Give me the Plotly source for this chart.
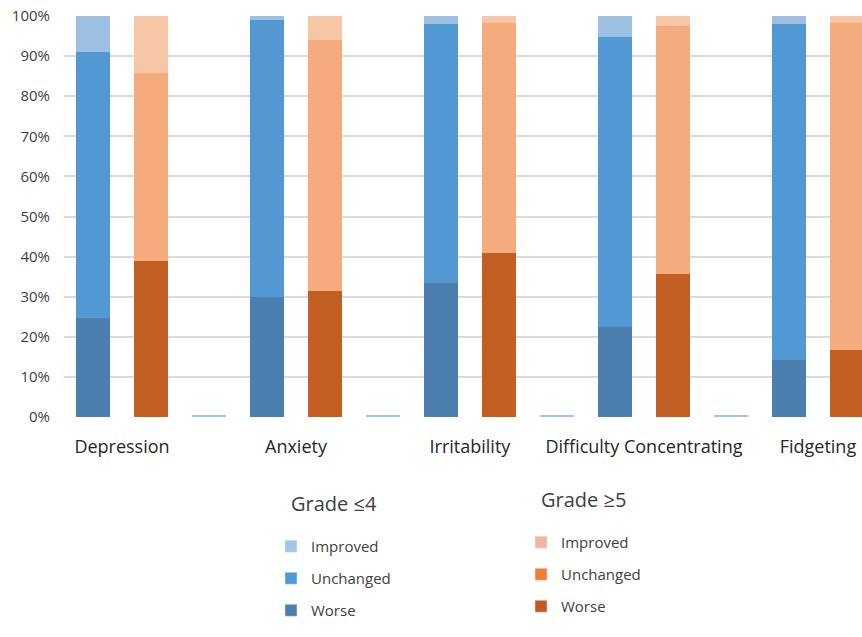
import plotly.graph_objects as go

# ---- data (percent) ----
categories = ["Depression", "Anxiety", "Irritability", "Difficulty Concentrating", "Fidgeting"]
g4_worse = [24.7, 29.9, 33.4, 22.4, 14.2]
g4_unchanged = [66.3, 69.1, 64.6, 72.4, 83.8]
g4_improved = [9.0, 1.0, 2.0, 5.2, 2.0]
g5_worse = [38.9, 31.4, 40.9, 35.7, 16.7]
g5_unchanged = [47.0, 62.6, 57.4, 61.8, 81.6]
g5_improved = [14.1, 6.0, 1.7, 2.5, 1.7]
spacer_vals = [0.3, 0.3, 0.3, 0.3]
y_tick_vals = [0, 10, 20, 30, 40, 50, 60, 70, 80, 90, 100]
y_tick_text = [f"{v}%" for v in y_tick_vals]

FONT = "Open Sans"
n = len(categories)
x_g4 = [3 * i for i in range(n)]
x_g5 = [3 * i + 1 for i in range(n)]
x_sp = [3 * i + 2 for i in range(len(spacer_vals))]
x_cat = [3 * i + 0.5 for i in range(n)]

bar_w = 0.59
fig = go.Figure()

def add_bar(x, y, color):
    fig.add_trace(go.Bar(x=x, y=y, width=bar_w, marker=dict(color=color, line=dict(width=0)),
                         showlegend=False, hoverinfo="skip"))

add_bar(x_g4, g4_worse, "#4A7FB0")
add_bar(x_g4, g4_unchanged, "#5299D3")
add_bar(x_g4, g4_improved, "#9DBFE2")
add_bar(x_g5, g5_worse, "#C45F24")
add_bar(x_g5, g5_unchanged, "#F4AC7E")
add_bar(x_g5, g5_improved, "#F7C6A6")
add_bar(x_sp, spacer_vals, "#9DC3E6")

# legend-only entries
leg_items = [
    ("Improved", "#A2C4E6", "legend", "a1"),
    ("Unchanged", "#4A9AD8", "legend", "a2"),
    ("Worse", "#4C7EB0", "legend", "a3"),
    ("Improved", "#F5B4A0", "legend2", "b1"),
    ("Unchanged", "#EE7D38", "legend2", "b2"),
    ("Worse", "#C35A20", "legend2", "b3"),
]
for name, col, leg, grp in leg_items:
    fig.add_trace(go.Bar(x=[None], y=[None], name=name, marker=dict(color=col),
                         legend=leg, legendgroup=grp, showlegend=True))

W, H = 862, 637
L, T, B = 64, 16, 220
pw, ph = W - L, H - T - B

def px(xpix):
    return (xpix - L) / pw

def py(ypix):
    return (H - B - ypix) / ph

leg_common = dict(font=dict(family=FONT, size=15, color="#404040"), bgcolor="rgba(0,0,0,0)",
                  itemwidth=30, tracegroupgap=9.5, xanchor="left", yanchor="top",
                  traceorder="grouped", itemclick=False, itemdoubleclick=False)

fig.update_layout(
    width=W, height=H,
    margin=dict(l=L, r=0, t=T, b=B),
    barmode="stack",
    bargap=0,
    plot_bgcolor="white", paper_bgcolor="white",
    font=dict(family=FONT, color="#404040"),
    xaxis=dict(range=[-0.5, 13.26], tickmode="array", tickvals=x_cat, ticktext=categories,
               showgrid=False, zeroline=False, showline=False, ticks="",
               tickfont=dict(family=FONT, size=18, color="#262626"), ticklabelstandoff=17,
               fixedrange=True),
    yaxis=dict(range=[0, 100], tickmode="array", tickvals=y_tick_vals, ticktext=y_tick_text,
               showgrid=True, gridcolor="#D9D9D9", gridwidth=2.3, zeroline=False, showline=False,
               ticks="", tickfont=dict(family=FONT, size=15, color="#404040"), ticklabelstandoff=13,
               fixedrange=True),
    legend=dict(x=px(271), y=py(530), **leg_common),
    legend2=dict(x=px(521), y=py(526), **leg_common),
    annotations=[
        dict(text="Grade ≤4", x=px(289), y=py(503), xref="paper", yref="paper", xanchor="left",
             yanchor="middle", showarrow=False, font=dict(family=FONT, size=20, color="#404040")),
        dict(text="Grade ≥5", x=px(539), y=py(500), xref="paper", yref="paper", xanchor="left",
             yanchor="middle", showarrow=False, font=dict(family=FONT, size=20, color="#404040")),
    ],
)

fig.write_html("out.html")
